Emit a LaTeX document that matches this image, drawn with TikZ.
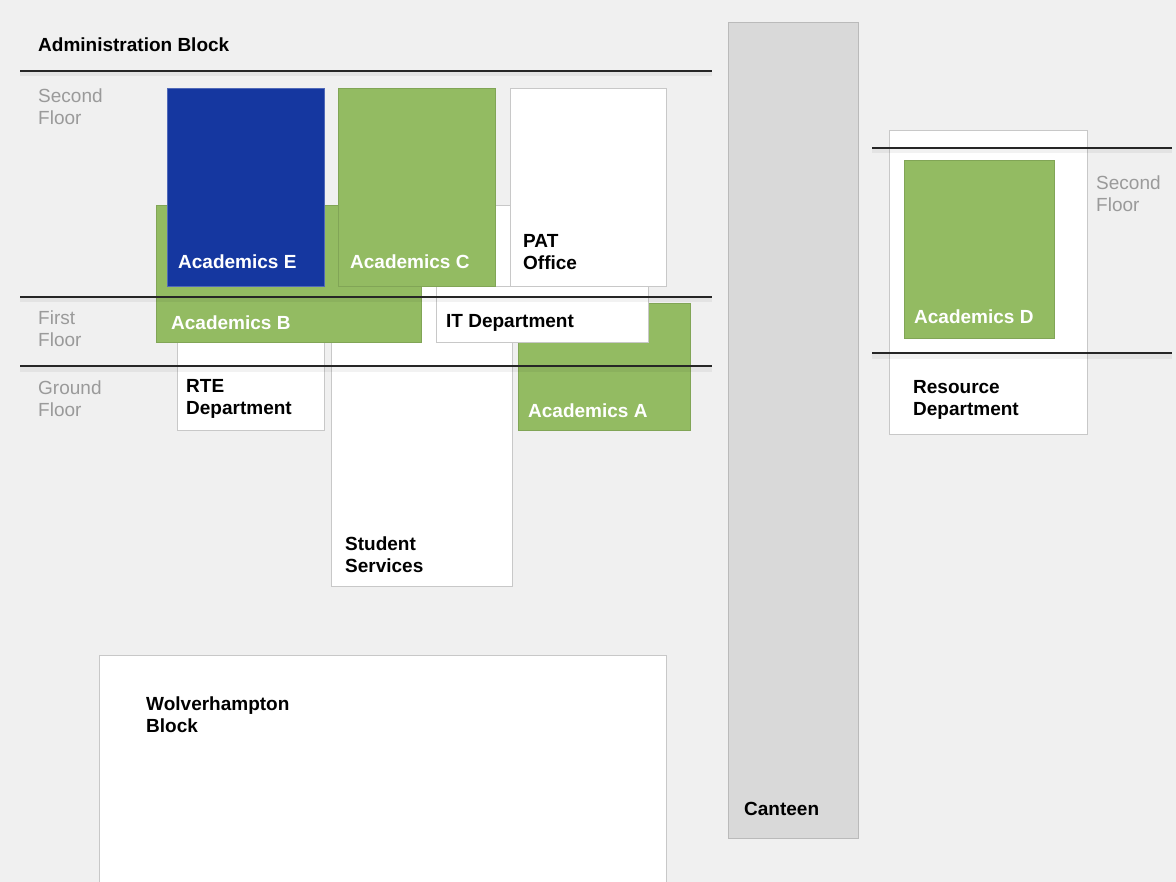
\documentclass[tikz,border=0pt]{standalone}
\usepackage{fontspec}
\setmainfont{Liberation Sans}
\usetikzlibrary{positioning}
\definecolor{bggrey}{HTML}{F0F0F0}
\definecolor{acadgreen}{HTML}{93BB62}
\definecolor{acadblue}{HTML}{1537A0}
\definecolor{boxline}{HTML}{C8C8C8}
\definecolor{canteengrey}{HTML}{D9D9D9}
\definecolor{floorgrey}{HTML}{9A9A9A}
\tikzset{
  room/.style = {rectangle, draw=boxline, fill=white, inner sep=0pt,
    anchor=north west},% salle blanche
  acad_g/.style = {room, draw=acadgreen!88!black, fill=acadgreen},% academics vert
  acad_b/.style = {room, draw=acadblue!75!white, fill=acadblue},% academics bleu
  hall/.style = {room, draw=black!27, fill=canteengrey},% cantine
  lbl/.style = {anchor=west, align=left, inner sep=0pt,
    font=\fontsize{19}{22}\selectfont\bfseries},
  lbl_w/.style = {lbl, white},
  floor_lbl/.style = {anchor=west, align=left, inner sep=0pt, floorgrey,
    font=\fontsize{19}{22}\selectfont},
  floor_line/.style = {draw=black!85, line width=1.1pt},
  floor_shade/.style = {fill=black, opacity=0.05}
}

\begin{document}
\begin{tikzpicture}[x=1pt, y=-1pt]

	\clip (0,0) rectangle (1176,882);
	\fill [bggrey] (0,0) rectangle (1176,882);

	% administration block
	\node [lbl, anchor=base west] (admin) at (38,52) {Administration Block};

	\node [room, minimum width=147, minimum height=150] (rte) at (177,280) {};
	\node [room, minimum width=181, minimum height=381] (student) at (331,205) {};
	\node [acad_g, minimum width=172, minimum height=127] (acadA) at (518,303) {};
	\node [room, minimum width=212, minimum height=56] (it) at (436,286) {};
	\node [acad_g, minimum width=265, minimum height=137] (acadB) at (156,205) {};
	\node [acad_b, minimum width=157, minimum height=198] (acadE) at (167,88) {};
	\node [acad_g, minimum width=157, minimum height=198] (acadC) at (338,88) {};
	\node [room, minimum width=156, minimum height=198] (pat) at (510,88) {};

	\node [lbl] at ([shift={(9,-31)}]rte.south west) {RTE\\Department};
	\node [lbl] at ([shift={(14,-32)}]student.south west) {Student\\Services};
	\node [lbl_w] at ([shift={(10,-20)}]acadA.south west) {Academics A};
	\node [lbl] at ([shift={(10,-19)}]it.south west) {IT Department};
	\node [lbl_w] at ([shift={(15,-20)}]acadB.south west) {Academics B};
	\node [lbl_w] at ([shift={(11,-25)}]acadE.south west) {Academics E};
	\node [lbl_w] at ([shift={(12,-25)}]acadC.south west) {Academics C};
	\node [lbl] at ([shift={(13,-34)}]pat.south west) {PAT\\Office};

	\fill [floor_shade] (20,71) rectangle (712,76);
	\fill [floor_shade] (20,297) rectangle (712,302);
	\fill [floor_shade] (20,366) rectangle (712,372);
	\draw [floor_line] (20,71) -- (712,71);
	\draw [floor_line] (20,297) -- (712,297);
	\draw [floor_line] (20,366) -- (712,366);

	\node [floor_lbl] at (38,107) {Second\\Floor};
	\node [floor_lbl] at (38,329) {First\\Floor};
	\node [floor_lbl] at (38,399) {Ground\\Floor};

	% canteen
	\node [hall, minimum width=130, minimum height=816] (canteen) at (728,22) {};
	\node [lbl] at ([shift={(16,-29)}]canteen.south west) {Canteen};

	% resource block
	\node [room, minimum width=198, minimum height=304] (resource) at (889,130) {};
	\node [acad_g, minimum width=150, minimum height=178] (acadD) at (904,160) {};
	\node [lbl] at ([shift={(24,-34)}]resource.south west) {Resource\\Department};
	\node [lbl_w] at ([shift={(10,-22)}]acadD.south west) {Academics D};

	\fill [floor_shade] (872,148) rectangle (1172,153);
	\fill [floor_shade] (872,353) rectangle (1172,359);
	\draw [floor_line] (872,148) -- (1172,148);
	\draw [floor_line] (872,353) -- (1172,353);
	\node [floor_lbl] at (1096,194) {Second\\Floor};

	% wolverhampton block
	\node [room, minimum width=567, minimum height=260] (wolver) at (99,655) {};
	\node [lbl] at ([shift={(47,60)}]wolver.north west) {Wolverhampton\\Block};

\end{tikzpicture}
\end{document}
